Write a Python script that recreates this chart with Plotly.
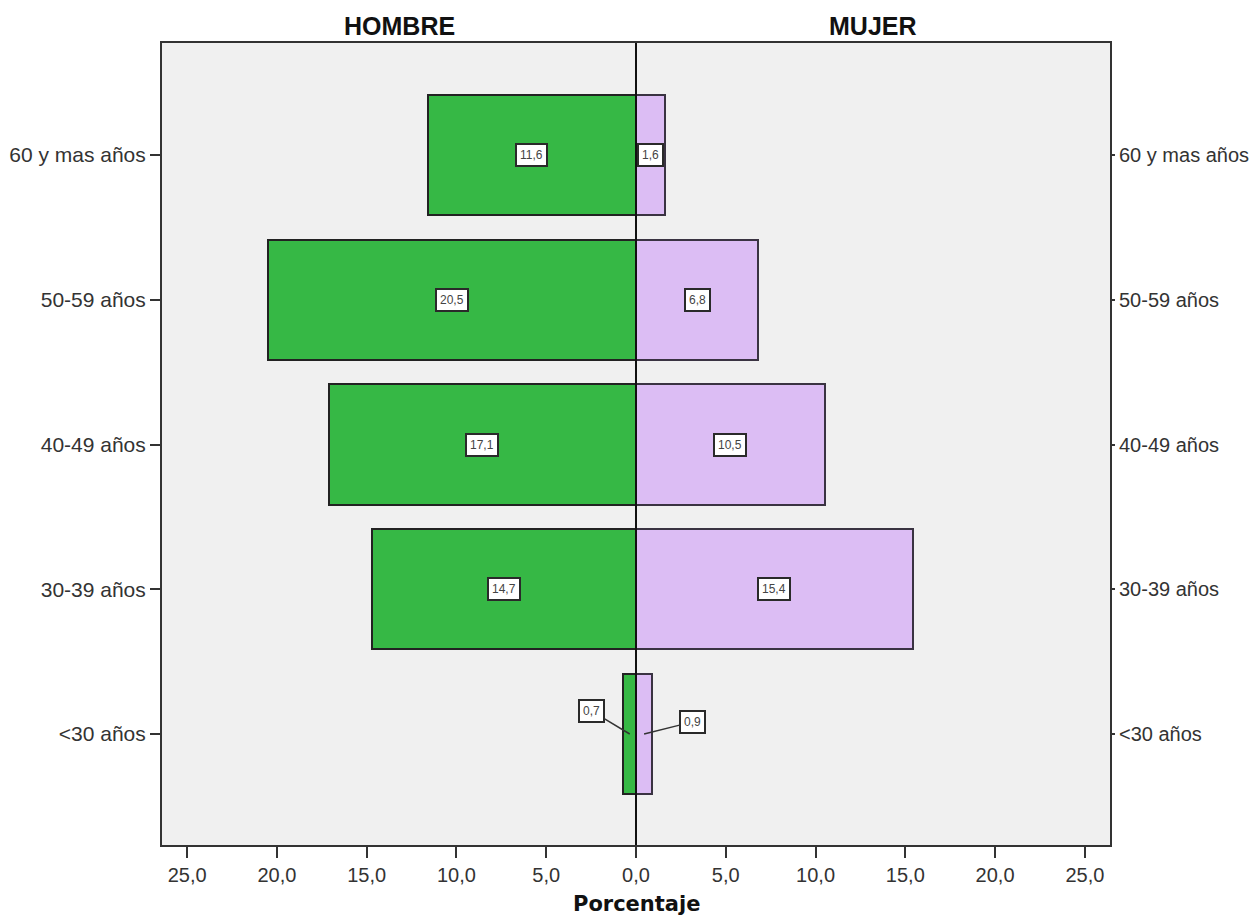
import plotly.graph_objects as go

categories = ["<30 años", "30-39 años", "40-49 años", "50-59 años", "60 y mas años"]
hombre = [0.7, 14.7, 17.1, 20.5, 11.6]
mujer = [0.9, 15.4, 10.5, 6.8, 1.6]
x_ticks = [-25, -20, -15, -10, -5, 0, 5, 10, 15, 20, 25]

pos = list(range(len(categories)))
fmt = lambda v: f"{abs(v):.1f}".replace(".", ",")

GREEN = "#36b845"
PINK = "#dcbdf4"
XTICKFONT = dict(family="Liberation Sans, Arial, sans-serif", size=20, color="#333333")
YTICKFONT = dict(family="Liberation Sans, Arial, sans-serif", size=21, color="#333333")
Y2TICKFONT = dict(family="Liberation Sans, Arial, sans-serif", size=20, color="#333333")

fig = go.Figure()
fig.add_trace(go.Bar(
    y=pos, x=[-v for v in hombre], orientation="h", width=0.83,
    marker=dict(color=GREEN, line=dict(color="#222222", width=2)),
    name="HOMBRE", hoverinfo="x+y",
))
fig.add_trace(go.Bar(
    y=pos, x=mujer, orientation="h", width=0.83,
    marker=dict(color=PINK, line=dict(color="#3a3342", width=2)),
    name="MUJER", hoverinfo="x+y",
))
# invisible trace so the right-hand axis is drawn
fig.add_trace(go.Scatter(
    y=pos, x=mujer, yaxis="y2", mode="markers",
    marker=dict(opacity=0), hoverinfo="skip", showlegend=False,
))

annotations = []
lab_style = dict(bgcolor="white", bordercolor="#2a2a2a", borderwidth=2, borderpad=3,
                 font=dict(family="Liberation Sans, Arial, sans-serif", size=12, color="#444444"))
for i, (h, m) in enumerate(zip(hombre, mujer)):
    if h >= 3:
        annotations.append(dict(x=-h / 2, y=i, text=fmt(h), showarrow=False, **lab_style))
    else:
        annotations.append(dict(x=-h / 2, y=i, text=fmt(h), showarrow=True, arrowhead=0,
                                arrowwidth=1.5, arrowcolor="#333333", ax=-38, ay=-23, **lab_style))
    if m >= 1.5:
        annotations.append(dict(x=m / 2, y=i, text=fmt(m), showarrow=False, **lab_style))
    else:
        annotations.append(dict(x=m / 2, y=i, text=fmt(m), showarrow=True, arrowhead=0,
                                arrowwidth=1.5, arrowcolor="#333333", ax=48, ay=-12, **lab_style))

TITLEFONT = dict(family="Liberation Sans, Arial, sans-serif", size=25, color="#111111")
annotations += [
    dict(text="<b>HOMBRE</b>", xref="paper", yref="paper", x=0.25, y=1, xanchor="center",
         yanchor="bottom", yshift=1, showarrow=False, font=TITLEFONT),
    dict(text="<b>MUJER</b>", xref="paper", yref="paper", x=0.75, y=1, xanchor="center",
         yanchor="bottom", yshift=1, showarrow=False, font=TITLEFONT),
    dict(text="<b>Porcentaje</b>", xref="paper", yref="paper", x=0.5, y=0, xanchor="center",
         yanchor="middle", yshift=-59, showarrow=False,
         font=dict(family="DejaVu Sans, Verdana, sans-serif", size=21, color="#111111")),
]

yrange = [-0.767, 4.774]
fig.update_layout(
    width=1250, height=908,
    margin=dict(l=154, r=148, t=35, b=71, autoexpand=False),
    paper_bgcolor="white", plot_bgcolor="#f0f0f0",
    barmode="overlay", showlegend=False, bargap=0,
    xaxis=dict(range=[-26.4, 26.4], tickvals=x_ticks, ticktext=[fmt(v) for v in x_ticks],
               ticks="outside", ticklen=11, tickwidth=2, tickcolor="#333333",
               showline=True, linecolor="#333333", linewidth=2, mirror=True, automargin=False,
               showgrid=False, zeroline=False, tickfont=XTICKFONT, fixedrange=True),
    yaxis=dict(range=yrange, tickvals=pos, ticktext=categories,
               ticks="outside", ticklen=10, tickwidth=2, tickcolor="#333333",
               showline=True, linecolor="#333333", linewidth=2, mirror=True, automargin=False,
               showgrid=False, zeroline=False, tickfont=YTICKFONT),
    yaxis2=dict(range=yrange, tickvals=pos, ticktext=categories, overlaying="y", side="right",
                ticks="outside", ticklen=4, tickwidth=2, tickcolor="#333333", automargin=False,
                showline=False, showgrid=False, zeroline=False, tickfont=Y2TICKFONT),
    annotations=annotations,
    shapes=[dict(type="line", xref="x", yref="paper", x0=0, x1=0, y0=0, y1=1,
                 line=dict(color="#111111", width=2))],
)

fig.write_html("out.html")
